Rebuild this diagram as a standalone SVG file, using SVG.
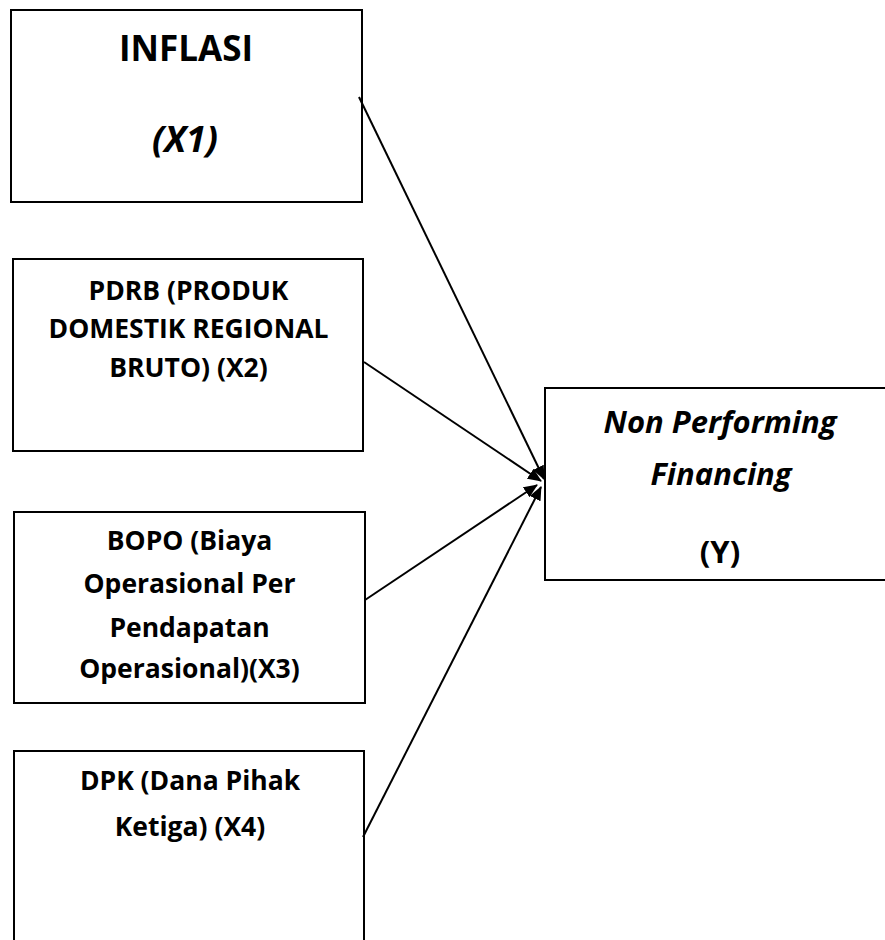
<svg xmlns="http://www.w3.org/2000/svg" width="885" height="940" viewBox="0 0 885 940">
<style>
.box{fill:#fff;stroke:#000;stroke-width:2}
.t{font-family:"Open Sans","Noto Sans","DejaVu Sans",sans-serif;font-weight:bold;text-anchor:middle;fill:#000}
.s{font-size:26.5px}
.i{font-style:italic}
.conn line{stroke:#000;stroke-width:2}
</style>
<defs>
<marker id="ah" markerUnits="userSpaceOnUse" markerWidth="14" markerHeight="12" refX="13" refY="6" orient="auto">
<path d="M0,0 L14,6 L0,12 Z" fill="#000"/>
</marker>
</defs>
<rect x="0" y="0" width="885" height="940" fill="#fff"/>
<g id="x1">
<rect class="box" x="11" y="10" width="351" height="192"/>
<text class="t" x="186" y="61" font-size="35">INFLASI</text>
<text class="t i" x="185" y="152" font-size="36">(X1)</text>
</g>
<g id="x2">
<rect class="box" x="13" y="259" width="350" height="192"/>
<text class="t s" x="188.5" y="300">PDRB (PRODUK</text>
<text class="t s" x="188.5" y="338">DOMESTIK REGIONAL</text>
<text class="t s" x="188.5" y="377">BRUTO) (X2)</text>
</g>
<g id="x3">
<rect class="box" x="14" y="512" width="351" height="191"/>
<text class="t s" x="189.5" y="550">BOPO (Biaya</text>
<text class="t s" x="189.5" y="593">Operasional Per</text>
<text class="t s" x="189.5" y="637">Pendapatan</text>
<text class="t s" x="189.5" y="678">Operasional)(X3)</text>
</g>
<g id="x4">
<rect class="box" x="14" y="751" width="350" height="220"/>
<text class="t s" x="190" y="790">DPK (Dana Pihak</text>
<text class="t s" x="190" y="836">Ketiga) (X4)</text>
</g>
<g id="y">
<rect class="box" x="545" y="388" width="350" height="192"/>
<text class="t i" x="720" y="433" font-size="31">Non Performing</text>
<text class="t i" x="721" y="485" font-size="31">Financing</text>
<text class="t" x="720" y="563" font-size="31">(Y)</text>
</g>
<g id="connectors" class="conn">
<line x1="359" y1="97" x2="544" y2="479" marker-end="url(#ah)"/>
<line x1="364" y1="362" x2="541" y2="481" marker-end="url(#ah)"/>
<line x1="365" y1="600" x2="537" y2="485" marker-end="url(#ah)"/>
<line x1="363" y1="837" x2="541" y2="487" marker-end="url(#ah)"/>
</g>
</svg>
